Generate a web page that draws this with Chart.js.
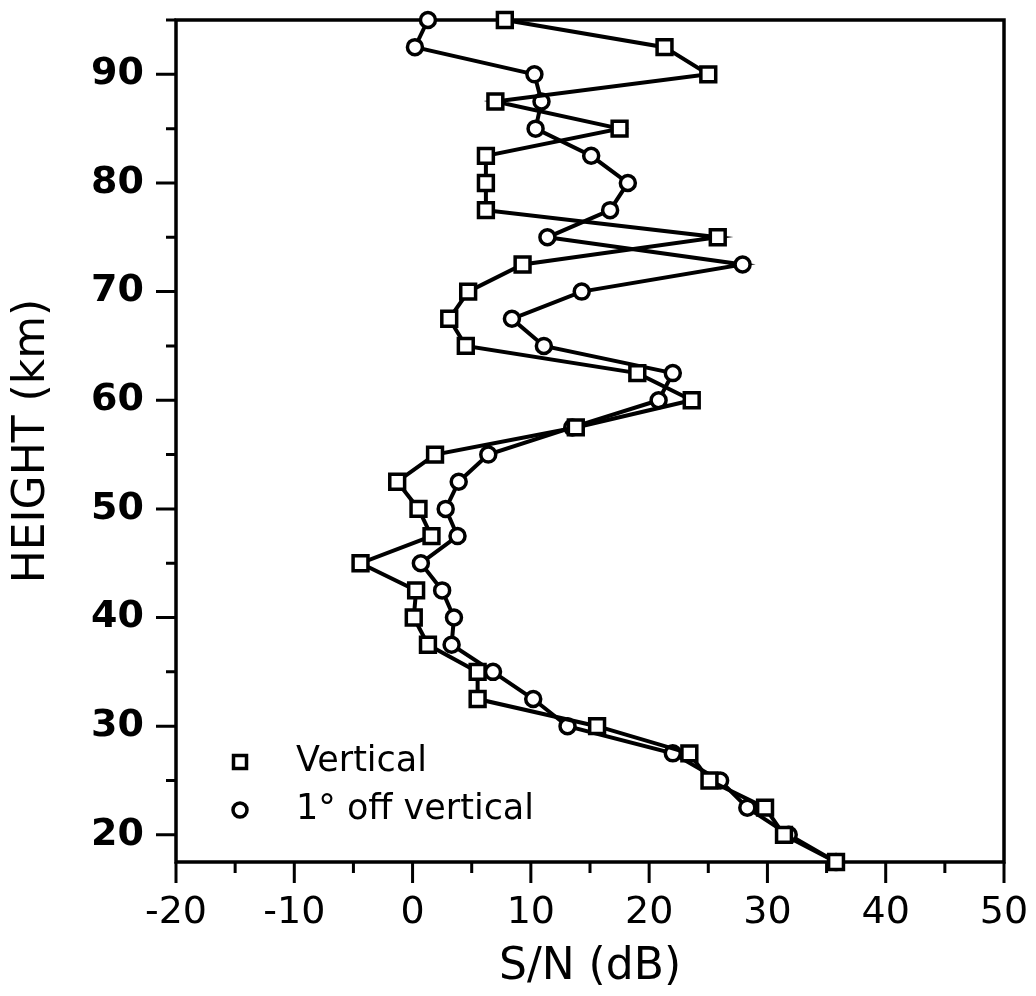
<!DOCTYPE html>
<html>
<head>
<meta charset="utf-8">
<script src="https://cdn.jsdelivr.net/npm/chart.js@4/dist/chart.umd.min.js"></script>
<style>
  html, body { margin: 0; padding: 0; background: #fff; }
  canvas { display: block; }
</style>
</head>
<body>
<canvas id="chart" width="1036" height="996"></canvas>
<script>
// heights in km, bottom to top
const heightKm = [17.5, 20, 22.5, 25, 27.5, 30, 32.5, 35, 37.5, 40, 42.5, 45, 47.5, 50, 52.5, 55,
  57.5, 60, 62.5, 65, 67.5, 70, 72.5, 75, 77.5, 80, 82.5, 85, 87.5, 90, 92.5, 95];

// S/N (dB), vertical beam
const snVertical = [35.8, 31.4, 29.8, 25.1, 23.4, 15.6, 5.5, 5.5, 1.3, 0.1, 0.3, -4.4, 1.6, 0.5, -1.3, 1.9,
  13.8, 23.6, 19.0, 4.5, 3.1, 4.7, 9.3, 25.8, 6.2, 6.2, 6.2, 17.5, 7.0, 25.0, 21.3, 7.8];

// S/N (dB), beam 1 degree off vertical
const snOffVertical = [35.8, 31.8, 28.3, 26.0, 22.0, 13.1, 10.2, 6.8, 3.3, 3.5, 2.5, 0.7, 3.8, 2.8, 3.9, 6.4,
  13.5, 20.8, 22.0, 11.1, 8.4, 14.3, 27.9, 11.4, 16.7, 18.2, 15.1, 10.4, 10.9, 10.3, 0.2, 1.3];

const xTickValues = [-20, -10, 0, 10, 20, 30, 40, 50];
const yTickValues = [20, 30, 40, 50, 60, 70, 80, 90];
const seriesLabels = ["Vertical", "1\u00b0 off vertical"];

const X_MIN = -20, X_MAX = 50;
const Y_MIN = 17.5, Y_MAX = 95;
const INK = "#000";

const toPoints = (xs) => xs.map((v, i) => ({ x: v, y: heightKm[i] }));

// drop the label overhang padding so the plot box lands where the figure has it
const noOverhang = (s) => {
  s.paddingTop = 0;
  s.paddingBottom = 0;
  s.paddingLeft = 0;
  s.paddingRight = 0;
};

// box round the plot + outward major/minor ticks
const frame = {
  id: "frame",
  beforeDatasetsDraw(chart) {
    const { ctx, chartArea: a, scales: { x, y } } = chart;
    ctx.save();
    ctx.strokeStyle = INK;
    ctx.lineWidth = 3.5;
    ctx.strokeRect(a.left, a.top, a.right - a.left, a.bottom - a.top);

    ctx.lineWidth = 3;
    ctx.beginPath();
    for (let v = X_MIN; v <= X_MAX; v += 5) {
      const px = x.getPixelForValue(v);
      const len = v % 10 === 0 ? 21 : 11;
      ctx.moveTo(px, a.bottom);
      ctx.lineTo(px, a.bottom + len);
    }
    for (let v = 20; v <= Y_MAX; v += 5) {
      const py = y.getPixelForValue(v);
      const len = v % 10 === 0 ? 20 : 10;
      ctx.moveTo(a.left, py);
      ctx.lineTo(a.left - len, py);
    }
    ctx.stroke();
    ctx.restore();
  }
};

// legend drawn inside the plot, lower left
const innerLegend = {
  id: "innerLegend",
  afterDraw(chart) {
    const { ctx, chartArea: a } = chart;
    const rows = [
      { style: "rect", yOff: 100 },
      { style: "circle", yOff: 52 }
    ];
    ctx.save();
    ctx.font = "35px 'DejaVu Sans'";
    ctx.textBaseline = "middle";
    ctx.fillStyle = INK;
    rows.forEach((r, i) => {
      const cy = a.bottom - r.yOff;
      const cx = a.left + 64;
      ctx.lineWidth = 3.5;
      ctx.strokeStyle = INK;
      ctx.beginPath();
      if (r.style === "rect") {
        ctx.rect(cx - 6.5, cy - 6.5, 13, 13);
      } else {
        ctx.arc(cx, cy, 7, 0, Math.PI * 2);
      }
      ctx.stroke();
      ctx.fillText(seriesLabels[i], a.left + 120, cy);
    });
    ctx.restore();
  }
};

new Chart(document.getElementById("chart"), {
  type: "scatter",
  data: {
    datasets: [
      {
        label: seriesLabels[0],
        data: toPoints(snVertical),
        showLine: true,
        borderColor: INK,
        borderWidth: 4,
        pointStyle: "rect",
        pointRadius: 10.5,
        pointBorderWidth: 3.5,
        pointBackgroundColor: "#fff",
        pointBorderColor: INK,
        clip: false
      },
      {
        label: seriesLabels[1],
        data: toPoints(snOffVertical),
        showLine: true,
        borderColor: INK,
        borderWidth: 4,
        pointStyle: "circle",
        pointRadius: 7.5,
        pointBorderWidth: 3.5,
        pointBackgroundColor: "#fff",
        pointBorderColor: INK,
        clip: false
      }
    ]
  },
  options: {
    responsive: false,
    devicePixelRatio: 1,
    animation: false,
    layout: { padding: { top: 20, right: 32, left: 0, bottom: 0 } },
    plugins: {
      legend: { display: false },
      tooltip: { enabled: false }
    },
    scales: {
      x: {
        type: "linear",
        min: X_MIN,
        max: X_MAX,
        border: { display: false },
        grid: { display: false, drawTicks: false },
        afterBuildTicks: (s) => { s.ticks = xTickValues.map((v) => ({ value: v })); },
        afterFit: (s) => { s.height = 134; noOverhang(s); },
        ticks: {
          color: INK,
          padding: 28,
          maxRotation: 0,
          font: { family: "'DejaVu Sans'", size: 38 }
        },
        title: {
          display: true,
          text: "S/N (dB)",
          color: INK,
          padding: { top: 0, bottom: 2 },
          font: { family: "'DejaVu Sans'", size: 44 }
        }
      },
      y: {
        type: "linear",
        min: Y_MIN,
        max: Y_MAX,
        border: { display: false },
        grid: { display: false, drawTicks: false },
        afterBuildTicks: (s) => { s.ticks = yTickValues.map((v) => ({ value: v })); },
        afterFit: (s) => { s.width = 176; noOverhang(s); },
        ticks: {
          color: INK,
          padding: 32,
          font: { family: "'DejaVu Sans'", size: 38, weight: "bold" }
        },
        title: {
          display: true,
          text: "HEIGHT (km)",
          color: INK,
          padding: { top: 6, bottom: 0 },
          font: { family: "'DejaVu Sans'", size: 44 }
        }
      }
    }
  },
  plugins: [frame, innerLegend]
});
</script>
</body>
</html>
